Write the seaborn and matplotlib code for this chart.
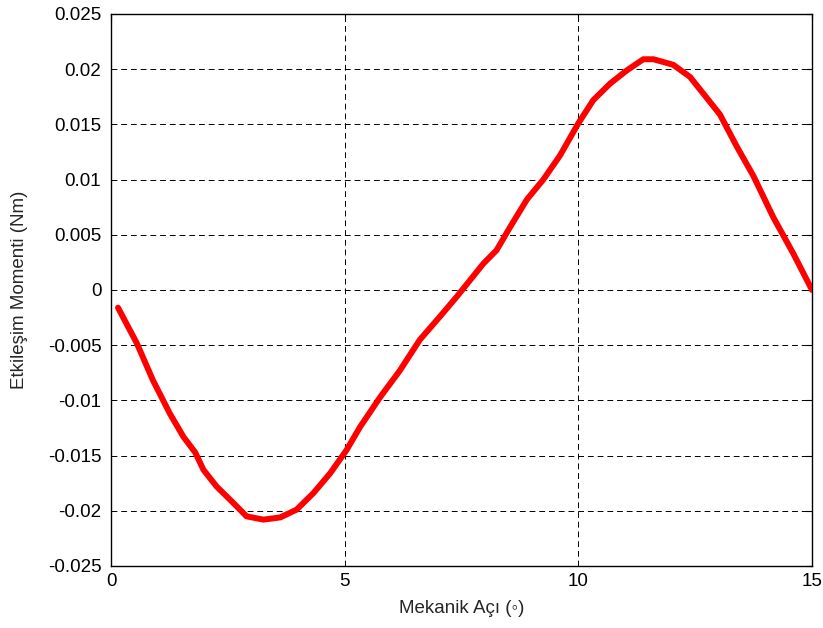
import matplotlib
matplotlib.use("Agg")
import matplotlib.pyplot as plt
import seaborn as sns
import pandas as pd
import numpy as np

angle = [0.15, 0.55, 0.9, 1.26, 1.55, 1.8, 1.98, 2.26, 2.62, 2.9, 3.26, 3.62, 3.97,
         4.33, 4.69, 5.04, 5.33, 5.76, 6.18, 6.61, 7.04, 7.4, 7.97, 8.25, 8.54, 8.9,
         9.25, 9.61, 10.0, 10.32, 10.68, 11.04, 11.39, 11.61, 12.03, 12.39, 13.03,
         13.39, 13.75, 14.17, 14.6, 15.0]
torque = [-0.0016, -0.0048, -0.0082, -0.0112, -0.0133, -0.0147, -0.0163, -0.0178,
          -0.0193, -0.0205, -0.0208, -0.0206, -0.0199, -0.0184, -0.0166, -0.0145,
          -0.0124, -0.0097, -0.0073, -0.0045, -0.0024, -0.0006, 0.0024, 0.0036,
          0.0057, 0.0082, 0.0100, 0.0122, 0.0151, 0.0172, 0.0187, 0.0199, 0.0209,
          0.0209, 0.0204, 0.0193, 0.0159, 0.0130, 0.0103, 0.0066, 0.0033, 0.0]
xticks = [0, 5, 10, 15]
yticks = [-0.025, -0.02, -0.015, -0.01, -0.005, 0, 0.005, 0.01, 0.015, 0.02, 0.025]
ytick_labels = ["-0.025", "-0.02", "-0.015", "-0.01", "-0.005", "0", "0.005",
                "0.01", "0.015", "0.02", "0.025"]

sns.set_style("white")
plt.rcParams['font.family'] = ['Liberation Sans', 'DejaVu Sans']

df = pd.DataFrame({"angle": angle, "torque": torque})

fig = plt.figure(figsize=(8.23, 6.28), dpi=100)
ax = fig.add_axes([111/823, 1 - 566/628, (812-111)/823, (566-14)/628])

sns.lineplot(data=df, x="angle", y="torque", sort=False, estimator=None,
             color="#ff0000", linewidth=4.3, ax=ax, zorder=3)

ax.set_xlim(0, 15)
ax.set_ylim(-0.025, 0.025)
ax.set_xticks(xticks)
ax.set_xticklabels([str(t) for t in xticks])
ax.set_yticks(yticks)
ax.set_yticklabels(ytick_labels)
ax.grid(True, color="black", linestyle=(0, (6, 4)), linewidth=0.7)
ax.tick_params(direction="in", length=4, width=0.8, labelsize=13.5, colors="black",
               top=True, right=True)
ax.tick_params(axis="y", pad=7)
ax.tick_params(axis="x", pad=5)
for s in ax.spines.values():
    s.set_visible(True)
    s.set_color("black")
    s.set_linewidth(1.0)

ax.set_xlabel("Mekanik Açı (◦)", fontsize=13.5, labelpad=7)
ax.set_ylabel("Etkileşim Momenti (Nm)", fontsize=13.5, labelpad=14)

fig.savefig("out.png", dpi=100)
